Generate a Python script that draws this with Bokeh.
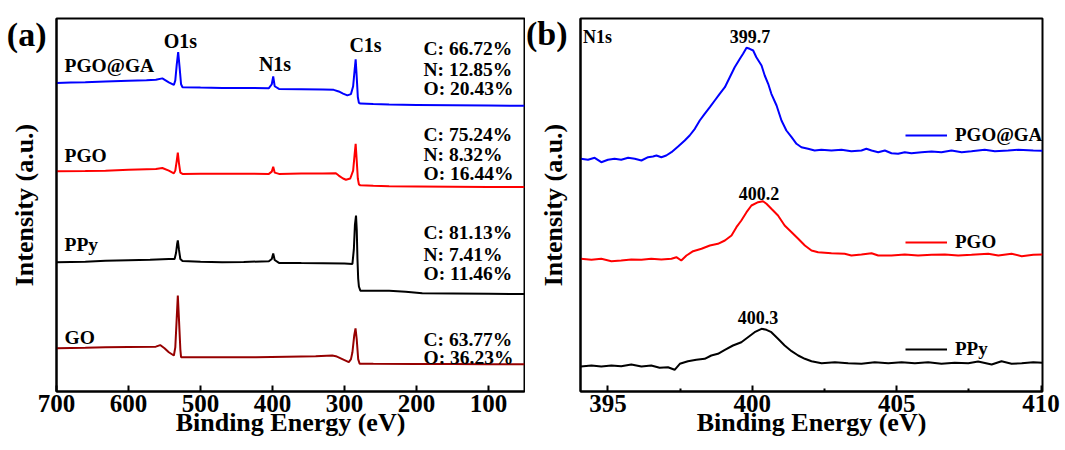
from bokeh.plotting import figure
from bokeh.models import Range1d, FixedTicker, Label, Legend, LegendItem
from bokeh.layouts import row
from bokeh.embed import file_html
from bokeh.resources import INLINE

FONT = "Liberation Serif"

# ---------------- data: panel (a) XPS survey spectra (offset intensities, a.u.) ----------------
pgoga_e = [700, 680, 660, 632, 600, 575, 562, 553, 544, 537, 535, 533, 531, 529, 527, 525, 500, 470,
           440, 405, 401, 399, 397, 391, 360, 330, 315, 308, 302, 296, 291, 288, 286, 284.5, 283, 281.5,
           280, 278, 260, 238, 200, 150, 100, 50]
pgoga_i = [319.3, 319.8, 320.0, 320.7, 321.5, 322.0, 322.7, 324.0, 320.0, 317.3, 322, 338, 350.7, 335,
           318, 315, 314.6, 314.3, 314.2, 314.0, 318, 326, 316, 313.3, 313, 312.6, 312.3, 310.7, 308.5,
           306.7, 308, 316, 332, 343.3, 325, 305, 299, 298.3, 297.8, 297.3, 297, 296.6, 296.3, 296]

pgo_e = [700, 660, 632, 600, 562, 553, 544, 537, 535, 533, 531.5, 530, 528, 525, 500, 470, 440, 405,
         401, 399, 397, 391, 360, 330, 312, 308, 302, 298, 292, 288, 286, 284.5, 283, 281.5, 280, 278,
         260, 238, 200, 150, 100, 50]
pgo_i = [229.3, 229.6, 230, 230.8, 231.7, 232.7, 230, 227.3, 230, 240, 248.3, 238, 228, 226.7, 226.8,
         226.9, 226.8, 226.7, 229, 234, 228, 226.7, 227, 227.2, 227.3, 225, 222, 220.7, 222, 230, 246,
         257.3, 240, 222, 216, 215, 214.5, 214, 213.8, 213.6, 213.4, 213.3]

ppy_e = [700, 660, 632, 600, 570, 544, 536, 534, 532.5, 531.5, 530, 528, 525, 500, 470, 440, 405, 401,
         399, 397, 391, 360, 330, 300, 289, 287, 285.5, 284, 283, 282, 281, 280, 278, 260, 238, 215,
         192, 150, 100, 69, 50]
ppy_i = [136.7, 137.2, 138.3, 138.8, 139.3, 140, 140, 146, 155, 159, 150, 140, 138, 137.2, 136.7, 137,
         137.7, 140, 145.7, 139, 136, 135.8, 135.7, 135.5, 135, 150, 175, 184.3, 170, 140, 120, 112,
         107.7, 107.7, 107.7, 106.7, 105, 104.8, 104.5, 104.3, 104.3]

go_e = [700, 660, 632, 600, 562, 556, 550, 544, 537, 535, 533, 531.5, 530, 528, 527, 500, 470, 423,
        380, 340, 317, 312, 306, 300, 294, 291, 289, 286.5, 284.7, 283, 281, 279, 260, 200, 150, 100, 50]
go_i = [49, 49.5, 50, 50.3, 50.7, 52.3, 49, 45, 41.7, 50, 80, 102.7, 80, 48, 40, 40, 40, 40, 40.5, 41,
        41.7, 41, 39, 37, 35, 38, 45, 62, 69.3, 58, 38, 33.3, 33.2, 33, 32.9, 32.8, 32.7]

samples_a = ["PGO@GA", "PGO", "PPy", "GO"]
core_levels = ["O1s", "N1s", "C1s"]
comp_pgoga = ["C: 66.72%", "N: 12.85%", "O: 20.43%"]
comp_pgo = ["C: 75.24%", "N: 8.32%", "O: 16.44%"]
comp_ppy = ["C: 81.13%", "N: 7.41%", "O: 11.46%"]
comp_go = ["C: 63.77%", "O: 36.23%"]
ticks_a = [700, 600, 500, 400, 300, 200, 100]

# ---------------- data: panel (b) N1s high-resolution spectra ----------------
b_pgoga_e = [394.06, 394.31, 394.54, 394.77, 395.0, 395.23, 395.46, 395.7, 395.93, 396.16, 396.39,
             396.56, 396.68, 396.85, 397.02, 397.2, 397.43, 397.66, 397.83, 398.01, 398.18, 398.35,
             398.53, 398.7, 398.87, 399.05, 399.22, 399.39, 399.57, 399.68, 399.8, 399.91, 400.03,
             400.14, 400.32, 400.43, 400.55, 400.66, 400.84, 401.01, 401.18, 401.36, 401.53, 401.7,
             401.93, 402.16, 402.39, 402.74, 403.09, 403.43, 403.78, 403.95, 404.13, 404.36, 404.59,
             404.82, 405.05, 405.28, 405.51, 405.86, 406.21, 406.55, 406.9, 407.25, 407.59, 408.05,
             408.4, 408.86, 409.21, 409.73, 410.05]
b_pgoga_i = [241.7, 240.7, 242.7, 238.3, 240.7, 241.7, 240.7, 242.7, 241.7, 240, 243.3, 244, 245, 243.3,
             245, 248.3, 254, 260, 265, 271.7, 280, 286.7, 293.3, 300, 306.7, 313.3, 323.3, 333.3, 341.7,
             346.7, 352.7, 351.7, 350, 343.3, 335, 325, 316.7, 306.7, 295, 280, 270, 263.3, 256.7, 253.3,
             251.7, 250, 250.7, 250, 250.7, 249.3, 250, 251.7, 250, 248.3, 250, 247.3, 246.7, 248.3,
             247.3, 248.3, 249, 248.3, 250, 248.3, 249.3, 250.7, 249.3, 250, 250.7, 250, 249.7]

b_pgo_e = [394.06, 394.43, 394.77, 395.12, 395.46, 395.81, 396.16, 396.5, 396.85, 397.2, 397.37, 397.54,
           397.72, 397.95, 398.24, 398.53, 398.81, 399.05, 399.28, 399.45, 399.62, 399.8, 399.97, 400.2,
           400.37, 400.49, 400.66, 400.89, 401.12, 401.36, 401.59, 401.82, 402.05, 402.28, 402.74,
           403.2, 403.43, 403.78, 404.13, 404.36, 404.82, 405.28, 405.74, 406.21, 406.67, 407.13,
           407.59, 408.17, 408.52, 408.98, 409.33, 409.73, 410.05]
b_pgo_i = [141.7, 140.7, 141.7, 139.3, 140, 141, 140.7, 141.7, 141, 141.7, 143.3, 140, 145, 149.3, 151.7,
           155, 156.7, 160, 165, 173.3, 180, 188.3, 195, 198.3, 199.3, 196.7, 191.7, 185, 175, 168.3,
           161.7, 155, 150, 148.3, 147.3, 146.7, 145, 146, 147.3, 145, 145, 146, 145, 145.7, 146, 145,
           145.7, 146.7, 145, 146.7, 144.3, 145.7, 146]

b_ppy_e = [394.06, 394.43, 394.77, 395.12, 395.46, 395.81, 396.16, 396.5, 396.79, 397.08, 397.31, 397.49,
           397.77, 398.06, 398.35, 398.58, 398.81, 399.05, 399.33, 399.62, 399.85, 400.08, 400.32,
           400.49, 400.66, 400.89, 401.12, 401.36, 401.59, 401.82, 402.05, 402.4, 402.86, 403.32,
           403.78, 404.24, 404.71, 405.17, 405.63, 406.09, 406.55, 407.01, 407.48, 407.82, 408.29,
           408.63, 408.98, 409.33, 409.73, 410.05]
b_ppy_i = [34, 35, 34, 35, 34.3, 36, 34, 35, 32.7, 33.3, 30.7, 36.7, 39.3, 40.7, 41.7, 45, 46.7, 50.7, 55,
           58.3, 63.3, 68.3, 71.7, 70.7, 68.3, 61.7, 55, 49.3, 45, 41.7, 39.3, 37.3, 38.3, 37.3, 36.7,
           38.3, 37.3, 38.3, 37.3, 38.3, 36.7, 37.7, 37.3, 39, 36, 39.3, 36.7, 37.3, 38.3, 37.7]

samples_b = ["PGO@GA", "PGO", "PPy"]
n1s_peaks = ["399.7", "400.2", "400.3"]
ticks_b = [395, 400, 405, 410]
minor_b = [397.5, 402.5, 407.5]
panel_tags = ["(a)", "(b)"]

BLUE, RED, BLACK, DARKRED = "#0000FF", "#FF0000", "#000000", "#960000"


def style(p, ticks, minor, tag, tag_y, tag_standoff, ylabel_standoff):
    p.xgrid.visible = False
    p.ygrid.visible = False
    p.outline_line_color = "black"
    p.outline_line_width = 2
    p.background_fill_color = "white"
    p.border_fill_color = "white"
    for ax in (p.xaxis[0], p.yaxis[0]):
        ax.axis_line_width = 2
        ax.axis_line_color = "black"
        ax.axis_label_text_font = FONT
        ax.axis_label_text_font_style = "bold"
        ax.axis_label_text_font_size = "26px"
        ax.axis_label_text_color = "black"
        ax.major_label_text_font = FONT
        ax.major_label_text_font_style = "bold"
        ax.major_label_text_font_size = "25px"
        ax.major_label_text_color = "black"
    xa = p.xaxis[0]
    xa.ticker = FixedTicker(ticks=ticks, minor_ticks=minor)
    xa.major_tick_in = 6
    xa.major_tick_out = 0
    xa.minor_tick_in = 3
    xa.minor_tick_out = 0
    xa.major_tick_line_width = 2
    xa.minor_tick_line_width = 2
    xa.major_label_standoff = 3
    xa.axis_label = "Binding Energy (eV)"
    xa.axis_label_standoff = -7
    xa.axis_label_text_line_height = 1.0
    xa.major_label_text_line_height = 1.0
    # y axis: no intensity ticks; the panel tag sits in the left margin as its only label
    ya = p.yaxis[0]
    ya.ticker = FixedTicker(ticks=[tag_y], minor_ticks=[])
    ya.major_label_overrides = {tag_y: tag}
    ya.major_label_text_font_size = "34px"
    ya.major_label_standoff = tag_standoff
    ya.major_tick_line_color = None
    ya.minor_tick_line_color = None
    ya.axis_label = "Intensity (a.u.)"
    ya.axis_label_standoff = ylabel_standoff


def lab(p, x, y, text, size, align="left", baseline="middle"):
    p.add_layout(Label(x=x, y=y, text=text, text_font=FONT, text_font_style="bold",
                       text_font_size=size, text_color="black", text_align=align,
                       text_baseline=baseline))


# ---------------- panel (a) ----------------
pa = figure(width=525, height=450, x_range=Range1d(700, 50), y_range=Range1d(5, 385),
            output_backend="svg", toolbar_location=None,
            min_border_left=56, min_border_right=1, min_border_top=15, min_border_bottom=55)
style(pa, ticks_a, [], panel_tags[0], 369, 4, -35)
pa.line(pgoga_e, pgoga_i, line_color=BLUE, line_width=2)
pa.line(pgo_e, pgo_i, line_color=RED, line_width=2)
pa.line(ppy_e, ppy_i, line_color=BLACK, line_width=2)
pa.line(go_e, go_i, line_color=DARKRED, line_width=2)

lab(pa, 527.8, 362.5, core_levels[0], "20px", align="center")
lab(pa, 396.5, 339, core_levels[1], "20px", align="center")
lab(pa, 270.8, 358, core_levels[2], "20px", align="center")
sample_y = [336.7, 245, 154.5, 60]
for name, yy in zip(samples_a, sample_y):
    lab(pa, 688.9, yy, name, "19.5px")
comp_rows = [(comp_pgoga, [354, 333.3, 313.3]), (comp_pgo, [266.7, 246.7, 226.7]),
             (comp_ppy, [166.7, 145, 125]), (comp_go, [58.3, 39.3])]
for texts, ys in comp_rows:
    for t, yy in zip(texts, ys):
        lab(pa, 190.3, yy, t, "19.5px")

# ---------------- panel (b) ----------------
pb = figure(width=538, height=450, x_range=Range1d(394.05, 410.05), y_range=Range1d(9, 382),
            output_backend="svg", toolbar_location=None,
            min_border_left=55, min_border_right=21, min_border_top=18, min_border_bottom=59)
style(pb, ticks_b, minor_b, panel_tags[1], 367, 7, -45)
r1 = pb.line(b_pgoga_e, b_pgoga_i, line_color=BLUE, line_width=2)
r2 = pb.line(b_pgo_e, b_pgo_i, line_color=RED, line_width=2)
r3 = pb.line(b_ppy_e, b_ppy_i, line_color=BLACK, line_width=2)

legend = Legend(items=[LegendItem(label=samples_b[0], renderers=[r1]),
                       LegendItem(label=samples_b[1], renderers=[r2]),
                       LegendItem(label=samples_b[2], renderers=[r3])],
                location=(325, 30), orientation="vertical",
                glyph_width=42, glyph_height=24, label_height=24, label_standoff=8,
                spacing=83, padding=0, margin=0, border_line_color=None,
                background_fill_alpha=0, label_text_font=FONT, label_text_font_style="bold",
                label_text_font_size="19px", label_text_color="black")
pb.add_layout(legend)

lab(pb, 394.14, 364, "N1s", "18px")
peak_pos = [(399.92, 364.2), (400.23, 207.4), (400.2, 83.3)]
for t, (xx, yy) in zip(n1s_peaks, peak_pos):
    lab(pb, xx, yy, t, "18px", align="center")

layout = row(pa, pb)
open("out.html", "w").write(file_html(layout, INLINE))
